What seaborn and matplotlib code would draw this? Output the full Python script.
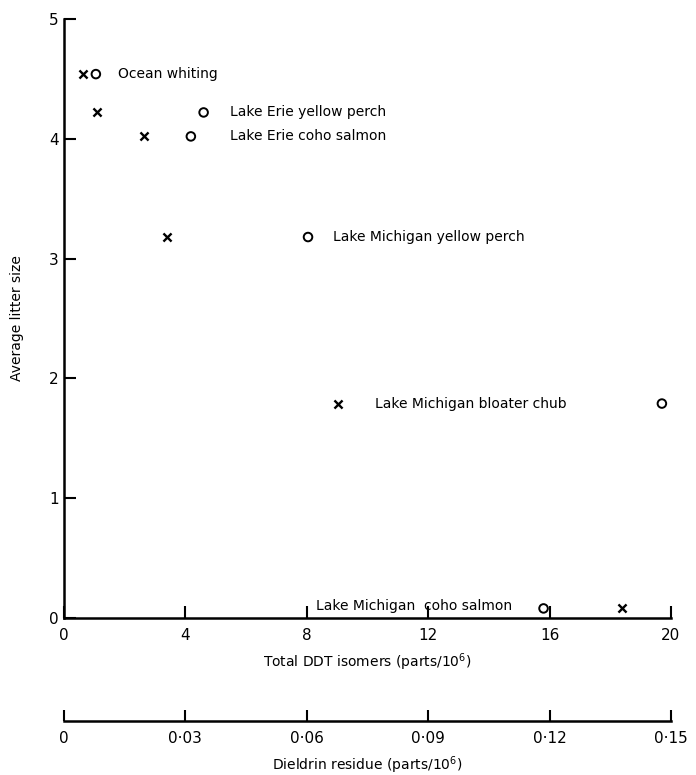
import matplotlib
matplotlib.use("Agg")
import matplotlib.pyplot as plt
import seaborn as sns
import pandas as pd

# ---- data ----
species = ["Ocean whiting", "Lake Erie yellow perch", "Lake Erie coho salmon",
           "Lake Michigan yellow perch", "Lake Michigan bloater chub",
           "Lake Michigan  coho salmon"]
litter_size = [4.54, 4.22, 4.02, 3.18, 1.79, 0.08]
ddt_total = [1.05, 4.6, 4.18, 8.04, 19.7, 15.8]
dieldrin = [0.0047, 0.0082, 0.0198, 0.0255, 0.0677, 0.138]

ddt_ticks = [0, 4, 8, 12, 16, 20]
dieldrin_ticks = [0, 0.03, 0.06, 0.09, 0.12, 0.15]
dieldrin_ticklabels = ["0", "0·03", "0·06", "0·09", "0·12", "0·15"]
y_ticks = [0, 1, 2, 3, 4, 5]

# label anchors (DDT-axis coordinates) and alignment
label_x = [1.78, 5.47, 5.47, 8.86, 10.25, 14.75]
label_y = [4.54, 4.22, 4.02, 3.18, 1.79, 0.10]
label_ha = ["left", "left", "left", "left", "left", "right"]

df = pd.DataFrame({"species": species, "litter": litter_size,
                   "ddt": ddt_total, "dieldrin": dieldrin})

sns.set_style("ticks")
plt.rcParams["font.family"] = ["DejaVu Sans"]

fig = plt.figure(figsize=(6.96, 7.75), dpi=100)
ax = fig.add_axes([64 / 696, (775 - 618) / 775, (671 - 64) / 696, (618 - 19) / 775])

sns.scatterplot(data=df, x="ddt", y="litter", ax=ax, marker="o", s=38,
                facecolors="none", edgecolor="black", linewidth=1.4, zorder=3)
ax.set_xlim(0, 20)
ax.set_ylim(0, 5)
ax.set_xticks(ddt_ticks)
ax.set_yticks(y_ticks)
ax.set_xticklabels([str(t) for t in ddt_ticks])
ax.set_yticklabels([str(t) for t in y_ticks])
for s in ["top", "right"]:
    ax.spines[s].set_visible(False)
for s in ["left", "bottom"]:
    ax.spines[s].set_linewidth(1.8)
    ax.spines[s].set_color("black")
ax.tick_params(axis="both", direction="in", length=8.5, width=1.5,
               labelsize=11, colors="black")
ax.tick_params(axis="x", pad=7)
ax.tick_params(axis="y", pad=4)
ax.set_xlabel("Total DDT isomers (parts/10$^{6}$)", fontsize=10, labelpad=6,
              color="black")
ax.set_ylabel("Average litter size", fontsize=10, labelpad=18, color="black")

# second (dieldrin) axis below
ax2 = ax.twiny()
ax2.set_xlim(0, 0.15)
ax2.set_ylim(0, 5)
sns.scatterplot(data=df, x="dieldrin", y="litter", ax=ax2, marker="x", s=34,
                color="black", linewidth=1.7, zorder=3)
ax2.set_ylim(0, 5)
ax2.xaxis.set_ticks_position("bottom")
ax2.xaxis.set_label_position("bottom")
ax2.spines["bottom"].set_position(("axes", -0.172))
for s in ["top", "right", "left"]:
    ax2.spines[s].set_visible(False)
ax2.spines["bottom"].set_linewidth(1.8)
ax2.spines["bottom"].set_color("black")
ax2.set_xticks(dieldrin_ticks)
ax2.set_xticklabels(dieldrin_ticklabels)
ax2.tick_params(axis="x", direction="in", length=8, width=1.5, labelsize=11,
                pad=7, colors="black")
ax2.set_xlabel("Dieldrin residue (parts/10$^{6}$)", fontsize=10, labelpad=6,
               color="black")
ax2.set_ylabel("")
ax2.yaxis.set_visible(False)

for name, lx, ly, ha in zip(species, label_x, label_y, label_ha):
    ax.text(lx, ly, name, ha=ha, va="center", fontsize=10, color="black")

fig.savefig("out.png", dpi=100, facecolor="white")
